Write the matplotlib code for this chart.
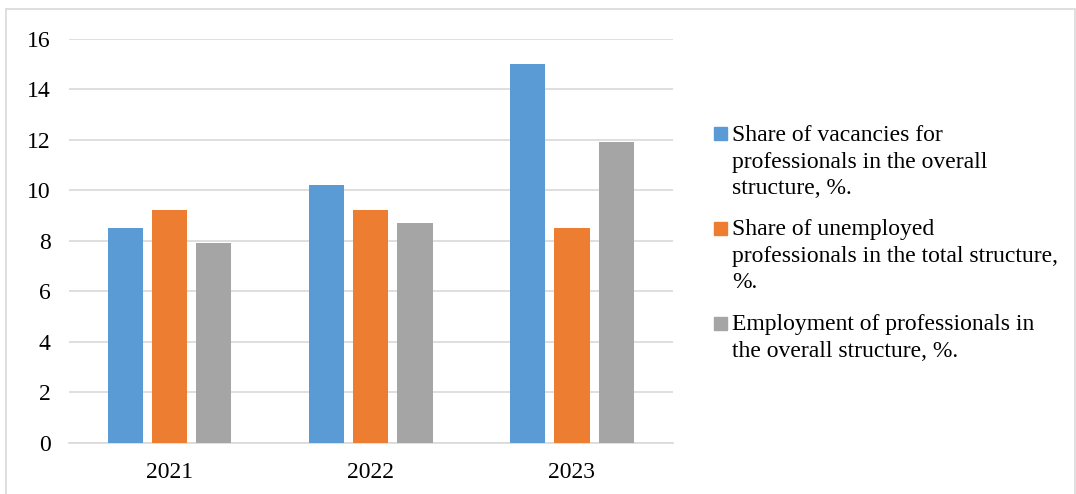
import numpy as np
import matplotlib.pyplot as plt
from matplotlib.patches import Rectangle

years = ["2021", "2022", "2023"]
vacancies = [8.5, 10.2, 15.0]
unemployed = [9.2, 9.2, 8.5]
employment = [7.9, 8.7, 11.9]
labels = [
    "Share of vacancies for\nprofessionals in the overall\nstructure, %.",
    "Share of unemployed\nprofessionals in the total structure,\n%.",
    "Employment of professionals in\nthe overall structure, %.",
]
colors = ["#5b9bd5", "#ed7d31", "#a5a5a5"]

plt.rcParams['font.family'] = ['Liberation Serif', 'DejaVu Serif']

W, H = 1076, 494
fig = plt.figure(figsize=(W / 100, H / 100), dpi=100)
ax = fig.add_axes([0.064, 0.104, 0.561, 0.818])

x = np.arange(len(years))
w = 0.175
off = 0.22
for i, (vals, c) in enumerate(zip([vacancies, unemployed, employment], colors)):
    ax.bar(x + (i - 1) * off, vals, width=w, color=c, zorder=3)

ax.set_xlim(-0.5, 2.5)
ax.set_ylim(0, 16)
ax.set_yticks(range(0, 17, 2))
ax.set_xticks(x)
ax.set_xticklabels(years)
ax.tick_params(length=0, labelsize=17)
ax.tick_params(axis='x', pad=14)
ax.tick_params(axis='y', pad=13)
ax.grid(axis='y', color='#d9d9d9', linewidth=1.2, zorder=0)
for s in ['top', 'right', 'left']:
    ax.spines[s].set_visible(False)
ax.spines['bottom'].set_color('#d9d9d9')
ax.spines['bottom'].set_linewidth(1.2)

# legend drawn by hand so each swatch sits on the first line of its label
entry_y = [134, 228, 323]
for lab, c, yc in zip(labels, colors, entry_y):
    fig.patches.append(Rectangle((714 / W, 1 - (yc + 6.5) / H), 13 / W, 13 / H,
                                 transform=fig.transFigure, color=c))
    fig.text(732 / W, 1 - (yc - 9) / H, lab, fontsize=17, va='top', ha='left',
             linespacing=1.35)

fig.patches.append(Rectangle((0.006, -0.01), 0.993, 0.992, transform=fig.transFigure,
                             fill=False, edgecolor='#d9d9d9', linewidth=1.2))

fig.savefig("out.png", dpi=100)
